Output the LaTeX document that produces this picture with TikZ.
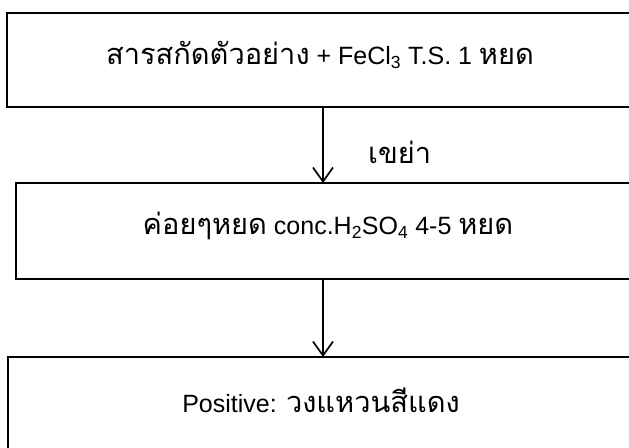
\documentclass[tikz,border=0pt]{standalone}
\usepackage{fontspec}
\setmainfont{Liberation Sans}
\newfontfamily\thaifont[Script=Thai]{Loma}
\newcommand\thx[1]{{\thaifont\fontsize{29}{32}\selectfont #1}}
\usetikzlibrary{arrows.meta}
\begin{document}
\begin{tikzpicture}[x=1pt,y=-1pt,
  boxst/.style={draw, line width=2.3pt, inner sep=0pt, outer sep=0pt, anchor=north west},
  txt/.style={font=\fontsize{25}{28}\selectfont, inner sep=0pt},
  flow/.style={line width=1.7pt, -{Straight Barb[length=14pt,width=20pt,line width=1.7pt]}}]
\useasboundingbox (0,0) rectangle (629,447);
\clip (0,0) rectangle (629,447);
\node[boxst, minimum width=632pt, minimum height=94pt] (b1) at (7,13) {};
\node[boxst, minimum width=614pt, minimum height=96pt] (b2) at (16,183) {};
\node[boxst, minimum width=630pt, minimum height=110pt] (b3) at (8,357) {};
\node[txt] (t1) at (320,55) {\thx{สารสกัดตัวอย่าง} + FeCl\textsubscript{3} T.S. 1 \thx{หยด}};
\node[txt] (t2) at (328,226) {\thx{ค่อยๆหยด} conc.H\textsubscript{2}SO\textsubscript{4} 4-5 \thx{หยด}};
\node[txt] (t3) at (321,400) {Positive: \thx{วงแหวนสีแดง}};
\draw[flow] (b1.south) -- (b2.north);
\draw[flow] (b2.south) -- (b3.north);
\node[txt, anchor=west] (lab) at (368,152) {\thx{เขย่า}};
\end{tikzpicture}
\end{document}
